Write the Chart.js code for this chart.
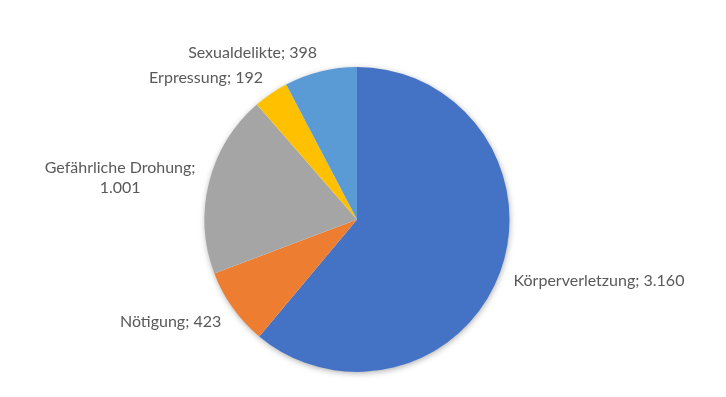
<!DOCTYPE html>
<html>
<head>
<meta charset="utf-8">
<script src="https://cdn.jsdelivr.net/npm/chart.js@4"></script>
<style>
  html, body { margin: 0; padding: 0; background: #ffffff; }
  #wrap { width: 726px; height: 397px; }
</style>
</head>
<body>
<div id="wrap"><canvas id="c" width="726" height="397"></canvas></div>
<script>
const categories = ["Körperverletzung", "Nötigung", "Gefährliche Drohung", "Erpressung", "Sexualdelikte"];
const values = [3160, 423, 1001, 192, 398];
const colors = ["#4472C4", "#ED7D31", "#A5A5A5", "#FFC000", "#5B9BD5"];

const LABEL_FONT = '16px Lato, "Open Sans", sans-serif';
const LABEL_COLOR = '#595959';
const LABEL_GAP = 14;
const V_SHIFT = 0.7;
const TEXT_DY = 2;
const LINE_H = 20;
const MAX_LINE = 180;

const fmt = new Intl.NumberFormat('de-DE');

const shadowPlugin = {
  id: 'pieShadow',
  beforeDatasetsDraw(chart) {
    const arc = chart.getDatasetMeta(0).data[0];
    if (!arc) return;
    const { x, y, outerRadius } = arc.getProps(['x', 'y', 'outerRadius'], true);
    const ctx = chart.ctx;
    ctx.save();
    ctx.shadowColor = 'rgba(0,0,0,0.35)';
    ctx.shadowBlur = 6;
    ctx.shadowOffsetX = 0.5;
    ctx.shadowOffsetY = 1.5;
    ctx.fillStyle = '#ffffff';
    ctx.beginPath();
    ctx.arc(x, y, outerRadius - 0.5, 0, Math.PI * 2);
    ctx.fill();
    ctx.restore();
  }
};

const labelPlugin = {
  id: 'outerLabels',
  afterDatasetsDraw(chart) {
    const ctx = chart.ctx;
    const meta = chart.getDatasetMeta(0);
    ctx.save();
    ctx.font = LABEL_FONT;
    ctx.fillStyle = LABEL_COLOR;
    ctx.textBaseline = 'middle';
    meta.data.forEach((arc, i) => {
      const { x, y, startAngle, endAngle, outerRadius } =
        arc.getProps(['x', 'y', 'startAngle', 'endAngle', 'outerRadius'], true);
      const mid = (startAngle + endAngle) / 2;
      const cos = Math.cos(mid), sin = Math.sin(mid);
      const R = outerRadius + LABEL_GAP;
      const ax = x + cos * R;
      const ay = y + sin * R;
      const full = categories[i] + '; ' + fmt.format(values[i]);
      let lines = [full];
      if (ctx.measureText(full).width > MAX_LINE) {
        lines = [categories[i] + ';', fmt.format(values[i])];
      }
      const w = Math.max(...lines.map(l => ctx.measureText(l).width));
      const h = lines.length * LINE_H;
      const left = cos >= 0 ? ax : ax - w;
      const cy = ay + sin * V_SHIFT * h / 2 + TEXT_DY;
      ctx.textAlign = 'center';
      lines.forEach((l, k) => {
        ctx.fillText(l, left + w / 2, cy - h / 2 + LINE_H * (k + 0.5));
      });
    });
    ctx.restore();
  }
};

new Chart(document.getElementById('c'), {
  type: 'pie',
  data: {
    labels: categories,
    datasets: [{
      data: values,
      backgroundColor: colors,
      borderWidth: 0,
      hoverOffset: 0
    }]
  },
  options: {
    responsive: false,
    animation: false,
    layout: { padding: { top: 67, bottom: 25, left: 0, right: 12 } },
    plugins: {
      legend: { display: false },
      tooltip: { enabled: false },
      title: { display: false }
    }
  },
  plugins: [shadowPlugin, labelPlugin]
});
</script>
</body>
</html>
